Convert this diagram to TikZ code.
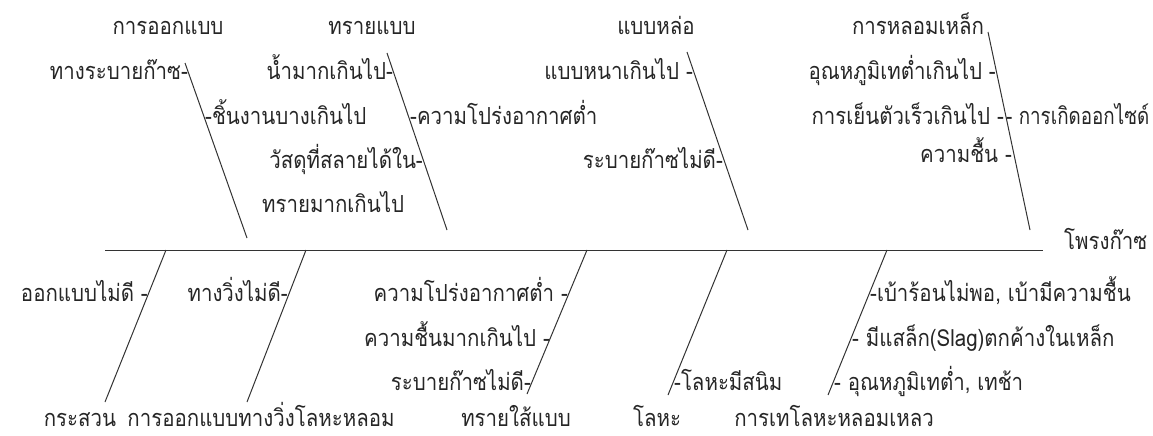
\documentclass[tikz,border=0pt]{standalone}
\usepackage{fontspec}
\newfontfamily\thaifont[Script=Thai,FakeStretch=0.87]{Loma}
\newfontfamily\thaifontn[Script=Thai,FakeStretch=0.8]{Loma}
\begin{document}
\begin{tikzpicture}[x=1pt,y=-1pt,
  lbl/.style={font=\thaifont\fontsize{23.5}{26}\selectfont, inner sep=0pt, text=black!85},
  lbln/.style={lbl, font=\thaifontn\fontsize{23.5}{26}\selectfont},
  bone/.style={line width=1pt, draw=black!80}]
\useasboundingbox (0,0) rectangle (1153,436);
% spine
\coordinate (s0) at (105,250);
\coordinate (s1) at (1043,250);
\node[lbl, anchor=base west] (effect) at (1064,249) {โพรงก๊าซ};
\draw[bone] (s0) -- (s1);
% top bones
\coordinate (t1a) at (185,63);  \coordinate (t1b) at (247,238);
\coordinate (t2a) at (387,53);  \coordinate (t2b) at (447,230);
\coordinate (t3a) at (687,52);  \coordinate (t3b) at (748,230);
\coordinate (t4a) at (988,32);  \coordinate (t4b) at (1030,230);
\draw[bone] (t1a) -- (t1b);
\draw[bone] (t2a) -- (t2b);
\draw[bone] (t3a) -- (t3b);
\draw[bone] (t4a) -- (t4b);
% bottom bones
\coordinate (b1a) at (166,250); \coordinate (b1b) at (105,402);
\coordinate (b2a) at (306,250); \coordinate (b2b) at (247,402);
\coordinate (b3a) at (587,250); \coordinate (b3b) at (527,394);
\coordinate (b4a) at (727,250); \coordinate (b4b) at (668,395);
\coordinate (b5a) at (887,250); \coordinate (b5b) at (828,395);
\draw[bone] (b1a) -- (b1b);
\draw[bone] (b2a) -- (b2b);
\draw[bone] (b3a) -- (b3b);
\draw[bone] (b4a) -- (b4b);
\draw[bone] (b5a) -- (b5b);
% headings
\node[lbl, anchor=base] (h1) at (168,35) {การออกแบบ};
\node[lbl, anchor=base] (h2) at (372,35) {ทรายแบบ};
\node[lbl, anchor=base] (h3) at (656,35) {แบบหล่อ};
\node[lbl, anchor=base] (h4) at (918,35) {การหลอมเหล็ก};
% top labels
\node[lbl, anchor=base east] (a1) at (188,79.5) {ทางระบายก๊าซ-};
\node[lbl, anchor=base west] (a2) at (205,124) {-ชิ้นงานบางเกินไป};
\node[lbl, anchor=base east] (a3) at (393,79.5) {น้ำมากเกินไป-};
\node[lbl, anchor=base east] (a4) at (423,168) {วัสดุที่สลายได้ใน-};
\node[lbl, anchor=base west] (a5) at (262,212) {ทรายมากเกินไป};
\node[lbl, anchor=base west] (a6) at (410,124) {-ความโปร่งอากาศต่ำ};
\node[lbl, anchor=base east] (a7) at (693,79.5) {แบบหนาเกินไป -};
\node[lbl, anchor=base east] (a8) at (723,168) {ระบายก๊าซไม่ดี-};
\node[lbl, anchor=base east] (a9) at (996,79.5) {อุณหภูมิเทต่ำเกินไป -};
\node[lbl, anchor=base east] (a10) at (1004,124) {การเย็นตัวเร็วเกินไป -};
\node[lbln, anchor=base west] (a11) at (1006,124) {- การเกิดออกไซด์};
\node[lbl, anchor=base east] (a12) at (1012,162) {ความชื้น -};
% bottom labels
\node[lbl, anchor=base east] (c1) at (148,301) {ออกแบบไม่ดี -};
\node[lbl, anchor=base east] (c2) at (288,301) {ทางวิ่งไม่ดี-};
\node[lbl, anchor=base east] (c3) at (568,301) {ความโปร่งอากาศต่ำ -};
\node[lbl, anchor=base east] (c4) at (550,346) {ความชื้นมากเกินไป -};
\node[lbl, anchor=base east] (c5) at (531,390) {ระบายก๊าซไม่ดี-};
\node[lbl, anchor=base west] (c6) at (674,390) {-โลหะมีสนิม};
\node[lbl, anchor=base west] (c7) at (870,301) {-เบ้าร้อนไม่พอ, เบ้ามีความชื้น};
\node[lbl, anchor=base west] (c8) at (852,346) {- มีแสล็ก(Slag)ตกค้างในเหล็ก};
\node[lbl, anchor=base west] (c9) at (834,390) {- อุณหภูมิเทต่ำ, เทช้า};
% names
\node[lbl, anchor=base] (n1) at (80,426) {กระสวน};
\node[lbl, anchor=base] (n2) at (261,426) {การออกแบบทางวิ่งโลหะหลอม};
\node[lbl, anchor=base] (n3) at (516,426) {ทรายใส้แบบ};
\node[lbl, anchor=base] (n4) at (657,426) {โลหะ};
\node[lbl, anchor=base] (n5) at (834,426) {การเทโลหะหลอมเหลว};
\end{tikzpicture}
\end{document}
